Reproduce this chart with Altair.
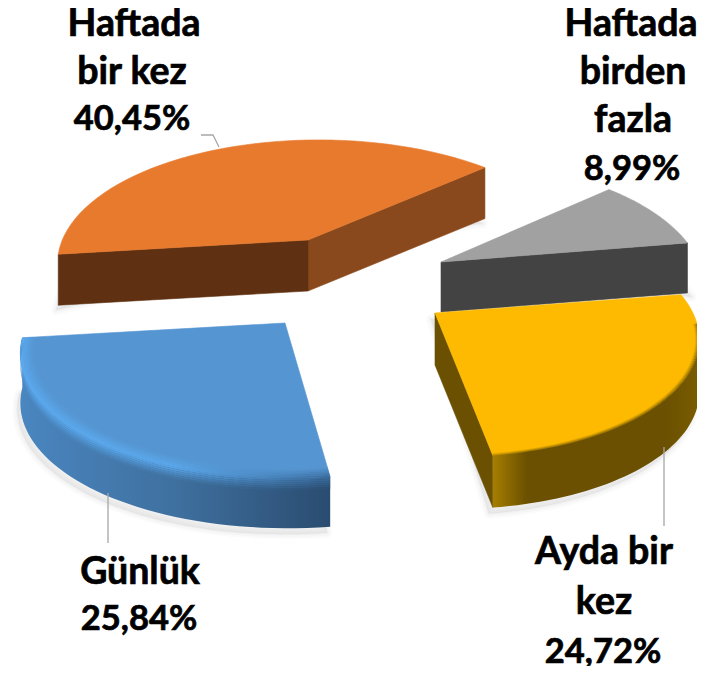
import math
import altair as alt

# --- chart values -------------------------------------------------------
categories = ["Günlük", "Haftada bir kez", "Haftada birden fazla", "Ayda bir kez"]
values = [25.84, 40.45, 8.99, 24.72]
top_colors = ["#5596D2", "#E87A2E", "#A1A1A1", "#FDBA00"]
start_angle = 170.0

# --- 3-D layout of each exploded slice (apex, radii, depth, shear) -------
apex = {"Günlük": (285, 323), "Haftada bir kez": (308, 240),
        "Haftada birden fazla": (441, 262), "Ayda bir kez": (435, 313)}
rx = {"Günlük": 270, "Haftada bir kez": 258, "Haftada birden fazla": 245, "Ayda bir kez": 245}
ry = {"Günlük": 124, "Haftada bir kez": 120, "Haftada birden fazla": 120, "Ayda bir kez": 115}
shear = {"Günlük": -0.09, "Haftada bir kez": 0.0, "Haftada birden fazla": 0.0, "Ayda bir kez": 0.03}
depth = {"Günlük": 50, "Haftada bir kez": 51, "Haftada birden fazla": 50, "Ayda bir kez": 52}
K, J = 0.2, -0.05

word_size, number_size = 37.5, 34.5
labels = [
    ("Haftada", 134, 25, word_size), ("bir kez", 132, 73, word_size), ("40,45%", 132, 120, number_size),
    ("Haftada", 631, 25, word_size), ("birden", 633, 73, word_size), ("fazla", 633, 121, word_size),
    ("8,99%", 632, 170, number_size),
    ("Günlük", 140, 573, word_size), ("25,84%", 139, 620, number_size),
    ("Ayda bir", 604, 553, word_size), ("kez", 604, 603, word_size), ("24,72%", 603, 653, number_size),
]
leaders = [
    [(201, 135), (213, 135), (219, 147)],
    [(108, 493), (108, 543)],
    [(664, 447), (664, 526)],
]

# --- slice angles from the values ---------------------------------------
angles = {}
a = start_angle
for c, v in zip(categories, values):
    angles[c] = (a, a + v * 3.6)
    a += v * 3.6


def pt(c, deg, r=1.0, d=0.0):
    t = math.radians(deg)
    u, v = r * math.sin(t), r * math.cos(t)
    s = 1.0 / (1 + K * v + J * u)
    y = -ry[c] * v * s
    x = rx[c] * u * s + shear[c] * y
    return (apex[c][0] + x, apex[c][1] + y + d)


def arc(c, a0, a1, r=1.0, d=0.0, n=48):
    return [pt(c, a0 + (a1 - a0) * i / n, r, d) for i in range(n + 1)]


def grad(*cols):
    n = len(cols) - 1
    return alt.LinearGradient(
        gradient="linear", x1=0, x2=1, y1=0, y2=0,
        stops=[alt.GradientStop(color=col, offset=i / n) for i, col in enumerate(cols)],
    )


def poly(points, fill, opacity=1.0, edge=True, sw=0.6):
    ring = [list(p) for p in points] + [list(points[0])]
    feat = {"type": "Feature", "properties": {},
            "geometry": {"type": "Polygon", "coordinates": [ring]}}
    kw = dict(fill=fill, opacity=opacity)
    if edge and isinstance(fill, str):
        kw.update(stroke=fill, strokeWidth=sw)
    else:
        kw.update(strokeWidth=0)
    return alt.Chart(alt.Data(values=[feat])).mark_geoshape(**kw)


def line(points):
    feat = {"type": "Feature", "properties": {},
            "geometry": {"type": "LineString", "coordinates": [list(p) for p in points]}}
    return alt.Chart(alt.Data(values=[feat])).mark_geoshape(
        filled=False, stroke="#A6A6A6", strokeWidth=1.3)


def mix(c1, c2, t):
    a_ = [int(c1[i:i + 2], 16) for i in (1, 3, 5)]
    b_ = [int(c2[i:i + 2], 16) for i in (1, 3, 5)]
    return "#%02X%02X%02X" % tuple(round(p + (q - p) * t) for p, q in zip(a_, b_))


def top(c):
    a0, a1 = angles[c]
    return [apex[c]] + arc(c, a0, a1)


def cut(c, deg):
    p0 = apex[c]
    p1 = pt(c, deg)
    return [p0, p1, (p1[0], p1[1] + depth[c]), (p0[0], p0[1] + depth[c])]


def rim_band(c, a0, a1, r0, d0, r1, d1):
    return arc(c, a0, a1, r0, d0) + arc(c, a1, a0, r1, d1)


def beveled_rim(c, a0, a1, rim, hi, tone, inner_r=0.95, bevel=12):
    """rim: gradient colours of the side; hi: highlight colours; tone: top colour"""
    layers = [poly(rim_band(c, a0, a1, 1.0, 0, 1.0, depth[c]), grad(*rim))]
    inner = 5
    for i in range(inner):
        t0, t1 = i / inner, (i + 1) / inner
        r0, r1 = inner_r + (1 - inner_r) * t0, inner_r + (1 - inner_r) * t1
        cols = [mix(tone, h, (t0 + t1) / 2) for h in hi]
        layers.append(poly(rim_band(c, a0, a1, r0, 0, r1, 0), grad(*cols)))
    outer = 6
    for i in range(outer):
        t0, t1 = i / outer, (i + 1) / outer
        cols = [mix(h, r, (t0 + t1) / 2) for h, r in zip(hi, rim)]
        layers.append(poly(rim_band(c, a0, a1, 1.0, bevel * t0, 1.0, bevel * t1), grad(*cols)))
    return layers


def shadow(points, dx, dy):
    out = []
    for grow, op in ((10, 0.07), (6, 0.09), (2, 0.12)):
        ring = [[p[0] + dx, p[1] + dy] for p in points]
        ring.append(list(ring[0]))
        feat = {"type": "Feature", "properties": {},
                "geometry": {"type": "Polygon", "coordinates": [ring]}}
        out.append(alt.Chart(alt.Data(values=[feat])).mark_geoshape(
            fill="#C8C8C8", stroke="#C8C8C8", strokeWidth=grow, strokeOpacity=op,
            fillOpacity=op, strokeJoin="round"))
    return out


c_blue, c_orange, c_gray, c_yellow = categories
t_blue, t_orange, t_gray, t_yellow = top_colors
layers = []

# shadows
for c, (dx, dy) in ((c_orange, (-2, 5)), (c_gray, (4, 4)), (c_yellow, (-4, 6)), (c_blue, (-3, 6))):
    a0, a1 = angles[c]
    base = [apex[c]] + arc(c, a0, a1, 1.0, depth[c])
    layers += shadow(base, dx, dy)

# orange
a0, a1 = angles[c_orange]
layers += [
    poly(cut(c_orange, a1), "#8A491C"),
    poly(cut(c_orange, a0), "#5F3011"),
    poly(top(c_orange), t_orange),
]
# gray
a0, a1 = angles[c_gray]
layers += [poly(cut(c_gray, a1), "#434343"), poly(top(c_gray), t_gray)]
# yellow
a0, a1 = angles[c_yellow]
layers += [poly(cut(c_yellow, a1), "#6A5000"), poly(top(c_yellow), t_yellow)]
yellow_side = ["#A67E00", "#6A5000", "#6A5000", "#6A5000", "#6A5000", "#6A5000", "#7A5C00"]
layers += beveled_rim(c_yellow, a0 + 14, a1, yellow_side, yellow_side,
                      t_yellow, inner_r=0.985, bevel=14)
# blue
a0, a1 = angles[c_blue]
layers += [poly(top(c_blue), t_blue)]
layers += beveled_rim(c_blue, a0, a1,
                      ["#4A86C0", "#3F709F", "#2A4C70"],
                      ["#5AAAF0", "#5AA8EC", "#3A6B9C"], t_blue)

layers += [line(p) for p in leaders]

text_rows = [{"t": t, "px": x, "py": y, "fs": s} for t, x, y, s in labels]
layers.append(
    alt.Chart(alt.Data(values=text_rows)).mark_text(
        font="Lato", fontWeight="bold", color="#000000", stroke="#000000", strokeWidth=0.7,
        align="center", baseline="middle",
    ).encode(longitude="px:Q", latitude="py:Q", text="t:N",
             size=alt.Size("fs:Q", scale=None, legend=None))
)

chart = alt.layer(*layers).project(
    type="identity", scale=1, translate=[-8, -8]
).properties(
    width=689, height=658, padding=0,
    autosize=alt.AutoSizeParams(type="none"),
).configure_view(stroke=None).configure(background="#FFFFFF")

chart.save("out.html", embed_options={"renderer": "svg", "actions": False})
